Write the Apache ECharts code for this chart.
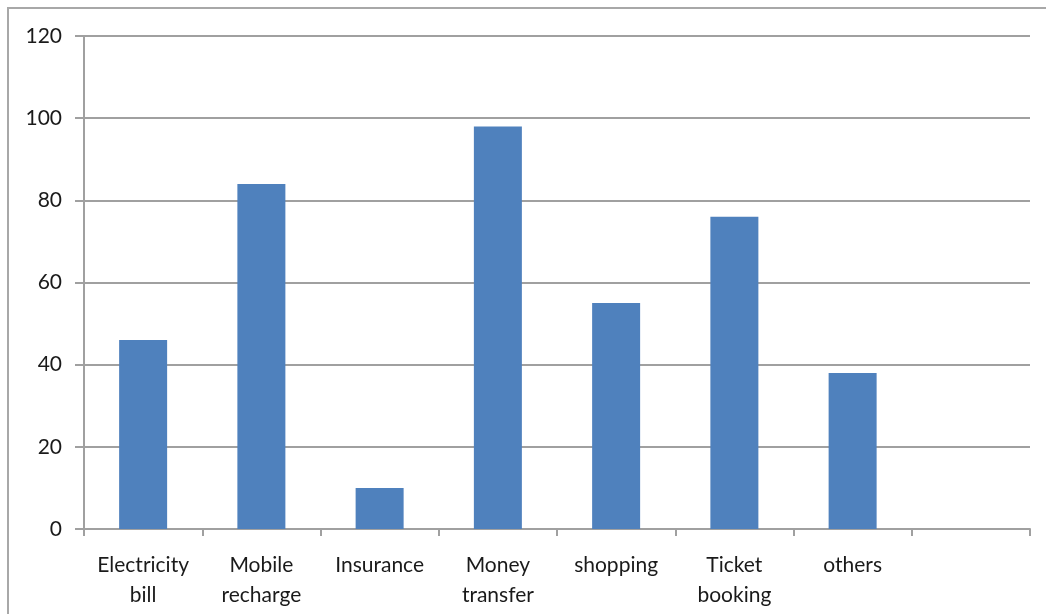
<!DOCTYPE html>
<html>
<head>
<meta charset="utf-8">
<style>
  html, body { margin: 0; padding: 0; background: #fff; }
  #chart { width: 1046px; height: 614px; }
</style>
<script src="https://cdn.jsdelivr.net/npm/echarts@6/dist/echarts.min.js"></script>
</head>
<body>
<div id="chart"></div>
<script>
// Payment purposes and their counts (last slot left empty)
const categories = ['Electricity\nbill', 'Mobile\nrecharge', 'Insurance', 'Money\ntransfer', 'shopping', 'Ticket\nbooking', 'others', ''];
const values = [46, 84, 10, 98, 55, 76, 38, '-'];
const yTicks = [0, 20, 40, 60, 80, 100, 120];

const axisGrey = '#a0a0a0';
const textFont = 'Lato, "Open Sans", sans-serif';

const chart = echarts.init(document.getElementById('chart'), null, { renderer: 'canvas' });
chart.setOption({
  animation: false,
  backgroundColor: '#ffffff',
  graphic: [{
    type: 'rect',
    shape: { x: 8, y: 8, width: 1060, height: 640 },
    style: { fill: 'none', stroke: '#a8a8a8', lineWidth: 2 },
    silent: true
  }],
  grid: { left: 84, right: 16, top: 36, bottom: 85, containLabel: false },
  xAxis: {
    type: 'category',
    data: categories,
    boundaryGap: true,
    axisLine: { show: true, lineStyle: { color: axisGrey, width: 2 } },
    axisTick: { show: true, alignWithLabel: false, length: 7, lineStyle: { color: axisGrey, width: 2 } },
    axisLabel: {
      interval: 0,
      margin: 21,
      color: '#1a1a1a',
      fontSize: 21,
      lineHeight: 30,
      fontFamily: textFont
    },
    splitLine: { show: false }
  },
  yAxis: {
    type: 'value',
    min: yTicks[0],
    max: yTicks[yTicks.length - 1],
    interval: 20,
    axisLine: { show: true, lineStyle: { color: axisGrey, width: 2 } },
    axisTick: { show: true, inside: false, length: 9, lineStyle: { color: axisGrey, width: 2 } },
    axisLabel: {
      margin: 22,
      color: '#1a1a1a',
      fontSize: 21,
      fontFamily: textFont
    },
    splitLine: { show: true, lineStyle: { color: axisGrey, width: 2 } }
  },
  series: [{
    type: 'bar',
    data: values,
    barWidth: 48,
    itemStyle: { color: '#4f81bd' }
  }]
});
</script>
</body>
</html>
